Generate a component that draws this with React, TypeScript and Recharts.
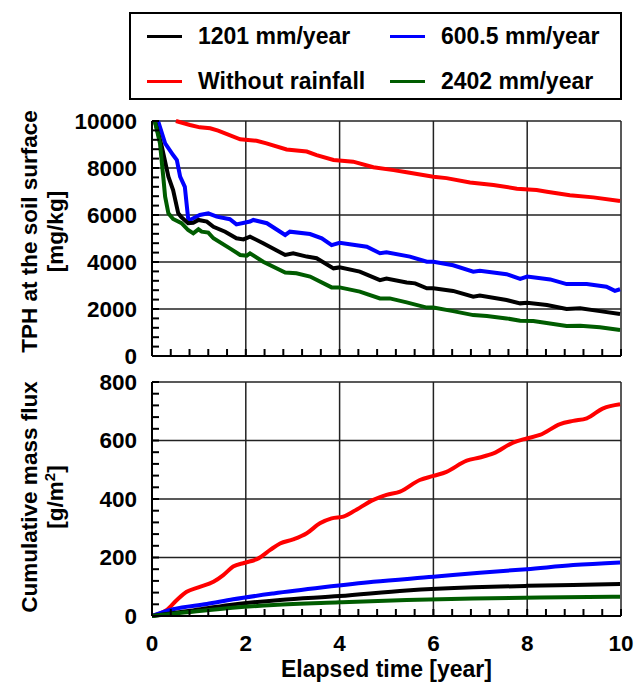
import { LineChart, Line, XAxis, YAxis, CartesianGrid } from "recharts";

const FONT = '"Liberation Sans", Arial, sans-serif';

// major ticks carry labels and grid lines, the rest are small inward ticks
const xTicks = [0, 2, 4, 6, 8, 10];
const xAllTicks = [0, 0.4, 0.8, 1.2, 1.6, 2, 2.4, 2.8, 3.2, 3.6, 4, 4.4, 4.8, 5.2, 5.6, 6, 6.4, 6.8, 7.2, 7.6, 8, 8.4, 8.8, 9.2, 9.6, 10];
const tphTicks = [0, 2000, 4000, 6000, 8000, 10000];
const tphAllTicks = [0, 400, 800, 1200, 1600, 2000, 2400, 2800, 3200, 3600, 4000, 4400, 4800, 5200, 5600, 6000, 6400, 6800, 7200, 7600, 8000, 8400, 8800, 9200, 9600, 10000];
const fluxTicks = [0, 200, 400, 600, 800];
const fluxAllTicks = [0, 40, 80, 120, 160, 200, 240, 280, 320, 360, 400, 440, 480, 520, 560, 600, 640, 680, 720, 760, 800];

// TPH at the soil surface [mg/kg], t in years
const tph1201 = [
  { t: 0.06, v: 10000 }, { t: 0.21, v: 8900 }, { t: 0.35, v: 7630 }, { t: 0.45, v: 7060 },
  { t: 0.56, v: 6070 }, { t: 0.63, v: 5900 }, { t: 0.77, v: 5650 }, { t: 0.88, v: 5670 },
  { t: 0.99, v: 5790 }, { t: 1.17, v: 5720 }, { t: 1.31, v: 5500 }, { t: 1.56, v: 5290 },
  { t: 1.8, v: 5010 }, { t: 1.95, v: 4960 }, { t: 2.09, v: 5080 }, { t: 2.37, v: 4800 },
  { t: 2.84, v: 4300 }, { t: 3.01, v: 4370 }, { t: 3.3, v: 4230 }, { t: 3.51, v: 4160 },
  { t: 3.87, v: 3730 }, { t: 4.0, v: 3770 }, { t: 4.43, v: 3590 }, { t: 4.86, v: 3230 },
  { t: 5.0, v: 3300 }, { t: 5.43, v: 3130 }, { t: 5.61, v: 3090 }, { t: 5.86, v: 2880 },
  { t: 6.0, v: 2880 }, { t: 6.42, v: 2770 }, { t: 6.85, v: 2520 }, { t: 6.99, v: 2570 },
  { t: 7.56, v: 2380 }, { t: 7.85, v: 2240 }, { t: 8.0, v: 2270 }, { t: 8.42, v: 2170 },
  { t: 8.84, v: 2000 }, { t: 9.13, v: 2030 }, { t: 9.55, v: 1910 }, { t: 9.98, v: 1790 },
];
const tph600 = [
  { t: 0.13, v: 10000 }, { t: 0.28, v: 9050 }, { t: 0.45, v: 8550 }, { t: 0.53, v: 8340 },
  { t: 0.6, v: 7630 }, { t: 0.7, v: 7200 }, { t: 0.77, v: 5860 }, { t: 0.81, v: 5790 },
  { t: 1.02, v: 6000 }, { t: 1.2, v: 6070 }, { t: 1.38, v: 5930 }, { t: 1.66, v: 5820 },
  { t: 1.8, v: 5600 }, { t: 2.09, v: 5720 }, { t: 2.16, v: 5790 }, { t: 2.45, v: 5650 },
  { t: 2.84, v: 5150 }, { t: 2.94, v: 5290 }, { t: 3.37, v: 5190 }, { t: 3.62, v: 5010 },
  { t: 3.83, v: 4720 }, { t: 4.0, v: 4820 }, { t: 4.58, v: 4650 }, { t: 4.86, v: 4370 },
  { t: 5.0, v: 4410 }, { t: 5.5, v: 4230 }, { t: 5.86, v: 4010 }, { t: 6.0, v: 4010 },
  { t: 6.42, v: 3860 }, { t: 6.85, v: 3590 }, { t: 6.99, v: 3630 }, { t: 7.56, v: 3480 },
  { t: 7.85, v: 3280 }, { t: 8.0, v: 3380 }, { t: 8.49, v: 3260 }, { t: 8.84, v: 3060 },
  { t: 9.27, v: 3060 }, { t: 9.69, v: 2950 }, { t: 9.87, v: 2770 }, { t: 9.98, v: 2840 },
];
const tphNoRain = [
  { t: 0.51, v: 10000 }, { t: 0.81, v: 9830 }, { t: 1.02, v: 9730 }, { t: 1.24, v: 9690 },
  { t: 1.41, v: 9590 }, { t: 1.88, v: 9220 }, { t: 2.23, v: 9160 }, { t: 2.44, v: 9050 },
  { t: 2.87, v: 8790 }, { t: 3.3, v: 8700 }, { t: 3.51, v: 8550 }, { t: 3.87, v: 8340 },
  { t: 4.29, v: 8270 }, { t: 4.72, v: 8030 }, { t: 5.15, v: 7910 }, { t: 5.43, v: 7820 },
  { t: 6.0, v: 7630 }, { t: 6.28, v: 7570 }, { t: 6.78, v: 7380 }, { t: 7.28, v: 7280 },
  { t: 7.78, v: 7120 }, { t: 8.2, v: 7060 }, { t: 8.42, v: 6990 }, { t: 8.91, v: 6840 },
  { t: 9.41, v: 6750 }, { t: 9.98, v: 6600 },
];
const tph2402 = [
  { t: 0.06, v: 10000 }, { t: 0.17, v: 9050 }, { t: 0.24, v: 7630 }, { t: 0.28, v: 6780 },
  { t: 0.35, v: 6070 }, { t: 0.45, v: 5830 }, { t: 0.63, v: 5650 }, { t: 0.77, v: 5360 },
  { t: 0.88, v: 5220 }, { t: 0.99, v: 5390 }, { t: 1.06, v: 5290 }, { t: 1.2, v: 5250 },
  { t: 1.31, v: 5010 }, { t: 1.66, v: 4580 }, { t: 1.88, v: 4300 }, { t: 2.02, v: 4270 },
  { t: 2.09, v: 4370 }, { t: 2.37, v: 4010 }, { t: 2.84, v: 3550 }, { t: 3.08, v: 3520 },
  { t: 3.37, v: 3380 }, { t: 3.83, v: 2920 }, { t: 4.0, v: 2920 }, { t: 4.43, v: 2740 },
  { t: 4.86, v: 2450 }, { t: 5.07, v: 2450 }, { t: 5.43, v: 2280 }, { t: 5.86, v: 2060 },
  { t: 6.0, v: 2060 }, { t: 6.42, v: 1910 }, { t: 6.85, v: 1740 }, { t: 7.14, v: 1700 },
  { t: 7.56, v: 1600 }, { t: 7.85, v: 1500 }, { t: 8.13, v: 1490 }, { t: 8.84, v: 1280 },
  { t: 9.13, v: 1290 }, { t: 9.55, v: 1220 }, { t: 9.98, v: 1110 },
];

// Cumulative mass flux [g/m2]
const flux1201 = [
  { t: 0, v: 0 }, { t: 0.81, v: 18 }, { t: 1.66, v: 38 }, { t: 2.73, v: 55 }, { t: 4.0, v: 68 },
  { t: 5.43, v: 87 }, { t: 6.85, v: 98 }, { t: 7.99, v: 103 }, { t: 8.98, v: 106 }, { t: 9.98, v: 109 },
];
const flux600 = [
  { t: 0, v: 0 }, { t: 0.45, v: 23 }, { t: 1.17, v: 41 }, { t: 1.73, v: 57 }, { t: 2.59, v: 77 },
  { t: 3.65, v: 98 }, { t: 4.72, v: 117 }, { t: 6.0, v: 134 }, { t: 6.99, v: 148 }, { t: 7.99, v: 160 },
  { t: 8.98, v: 174 }, { t: 9.98, v: 183 },
];
const fluxNoRain = [
  { t: 0, v: 0 }, { t: 0.31, v: 20 }, { t: 0.53, v: 55 }, { t: 0.74, v: 83 }, { t: 0.99, v: 98 },
  { t: 1.31, v: 117 }, { t: 1.52, v: 140 }, { t: 1.73, v: 169 }, { t: 1.98, v: 182 }, { t: 2.27, v: 197 },
  { t: 2.52, v: 226 }, { t: 2.73, v: 248 }, { t: 3.01, v: 262 }, { t: 3.3, v: 283 }, { t: 3.58, v: 317 },
  { t: 3.83, v: 334 }, { t: 4.08, v: 340 }, { t: 4.29, v: 357 }, { t: 4.72, v: 397 }, { t: 5.0, v: 414 },
  { t: 5.29, v: 425 }, { t: 5.71, v: 465 }, { t: 6.0, v: 479 }, { t: 6.28, v: 493 }, { t: 6.71, v: 531 },
  { t: 6.99, v: 542 }, { t: 7.28, v: 556 }, { t: 7.7, v: 593 }, { t: 7.99, v: 607 }, { t: 8.27, v: 619 },
  { t: 8.7, v: 656 }, { t: 8.98, v: 667 }, { t: 9.27, v: 676 }, { t: 9.62, v: 710 }, { t: 9.98, v: 724 },
];
const flux2402 = [
  { t: 0, v: 0 }, { t: 1.17, v: 20 }, { t: 2.59, v: 38 }, { t: 4.0, v: 47 }, { t: 5.43, v: 55 },
  { t: 6.85, v: 60 }, { t: 8.27, v: 63 }, { t: 9.98, v: 66 },
];

const series = [
  { key: "norain", name: "Without rainfall", color: "#ff0000", tph: tphNoRain, flux: fluxNoRain },
  { key: "600", name: "600.5 mm/year", color: "#0000ff", tph: tph600, flux: flux600 },
  { key: "1201", name: "1201 mm/year", color: "#000000", tph: tph1201, flux: flux1201 },
  { key: "2402", name: "2402 mm/year", color: "#005c00", tph: tph2402, flux: flux2402 },
];
const legendOrder = ["1201", "600", "norain", "2402"];

const labelFont = { fontFamily: FONT, fontWeight: "bold", fontSize: 22.5, fill: "#000" };

// y tick: small inward line at every tick, label only on the majors
function YTick({ x, y, payload, majors }: any) {
  const show = majors.includes(payload.value);
  return (
    <g>
      <line x1={x} x2={x + 7} y1={y} y2={y} stroke="#000" strokeWidth={2} />
      {show && (
        <text x={x - 15} y={y} textAnchor="end" dominantBaseline="central" {...labelFont}>
          {payload.value}
        </text>
      )}
    </g>
  );
}

function XTick({ x, y, payload, labels }: any) {
  const show = labels && xTicks.includes(payload.value);
  return (
    <g>
      <line x1={x} x2={x} y1={y} y2={y - 7} stroke="#000" strokeWidth={2} />
      {show && (
        <text x={x} y={y + 35} textAnchor="middle" {...labelFont}>
          {payload.value}
        </text>
      )}
    </g>
  );
}

function YTitle({ viewBox, lines, shift = 0 }: any) {
  const cy = viewBox.y + viewBox.height / 2 + shift;
  return (
    <g>
      {lines.map((line: any, i: number) => {
        const bx = viewBox.x + 37 + i * 26;
        return (
          <text key={i} x={bx} y={cy} transform={`rotate(-90 ${bx} ${cy})`} textAnchor="middle" {...labelFont}>
            {line}
          </text>
        );
      })}
    </g>
  );
}

function XTitle({ viewBox }: any) {
  return (
    <text x={viewBox.x + viewBox.width / 2} y={viewBox.y + 61} textAnchor="middle" {...labelFont} fontSize={23}>
      Elapsed time [year]
    </text>
  );
}

function LegendBox() {
  return (
    <div
      style={{
        position: "absolute",
        left: 129,
        top: 12,
        width: 493,
        height: 88,
        boxSizing: "border-box",
        border: "2px solid #000",
        display: "grid",
        gridTemplateColumns: "243px 240px",
        gridTemplateRows: "45px 45px",
        paddingLeft: 16,
        fontFamily: FONT,
        fontWeight: "bold",
        fontSize: 23,
      }}
    >
      {legendOrder.map((k) => {
        const s = series.find((d) => d.key === k)!;
        return (
          <div key={k} style={{ display: "flex", alignItems: "center" }}>
            <span style={{ width: 35, height: 3, background: s.color, marginRight: 16 }} />
            <span>{s.name}</span>
          </div>
        );
      })}
    </div>
  );
}

export default function App() {
  return (
    <div style={{ position: "absolute", left: 0, top: 0, width: 644, height: 682, background: "#fff" }}>
      <LegendBox />
      <div style={{ position: "absolute", left: 0, top: 0 }}>
        <LineChart width={644} height={370} margin={{ top: 121, right: 23, bottom: 0, left: 0 }}>
          <CartesianGrid stroke="#222" strokeWidth={1.5} verticalValues={xTicks} horizontalValues={tphTicks} />
          <XAxis
            dataKey="t"
            type="number"
            domain={[0, 10]}
            ticks={xAllTicks}
            interval={0}
            tick={<XTick labels={false} />}
            tickLine={false}
            tickSize={0}
            tickMargin={0}
            height={14}
            axisLine={{ stroke: "#000", strokeWidth: 2 }}
          />
          <YAxis
            type="number"
            domain={[0, 10000]}
            ticks={tphAllTicks}
            interval={0}
            width={152}
            tickSize={0}
            tickMargin={0}
            tickLine={false}
            tick={<YTick majors={tphTicks} />}
            axisLine={{ stroke: "#000", strokeWidth: 2 }}
            label={<YTitle lines={["TPH at the soil surface", "[mg/kg]"]} shift={-7} />}
          />
          {series.map((s) => (
            <Line
              key={s.key}
              data={s.tph}
              dataKey="v"
              name={s.name}
              type="linear"
              stroke={s.color}
              strokeWidth={4}
              dot={false}
              isAnimationActive={false}
            />
          ))}
        </LineChart>
      </div>
      <div style={{ position: "absolute", left: 0, top: 370 }}>
        <LineChart width={644} height={312} margin={{ top: 12, right: 23, bottom: 0, left: 0 }}>
          <CartesianGrid stroke="#222" strokeWidth={1.5} verticalValues={xTicks} horizontalValues={fluxTicks} />
          <XAxis
            dataKey="t"
            type="number"
            domain={[0, 10]}
            ticks={xAllTicks}
            interval={0}
            tick={<XTick labels />}
            tickLine={false}
            tickSize={0}
            tickMargin={0}
            height={66}
            axisLine={{ stroke: "#000", strokeWidth: 2 }}
            label={<XTitle />}
          />
          <YAxis
            type="number"
            domain={[0, 800]}
            ticks={fluxAllTicks}
            interval={0}
            width={152}
            tickSize={0}
            tickMargin={0}
            tickLine={false}
            tick={<YTick majors={fluxTicks} />}
            axisLine={{ stroke: "#000", strokeWidth: 2 }}
            label={
              <YTitle
                lines={[
                  "Cumulative mass flux",
                  <>
                    [g/m
                    <tspan dy={-8} fontSize={15}>
                      2
                    </tspan>
                    <tspan dy={8}>]</tspan>
                  </>,
                ]}
                shift={-2}
              />
            }
          />
          {series.map((s) => (
            <Line
              key={s.key}
              data={s.flux}
              dataKey="v"
              name={s.name}
              type="monotone"
              stroke={s.color}
              strokeWidth={4}
              dot={false}
              isAnimationActive={false}
            />
          ))}
        </LineChart>
      </div>
    </div>
  );
}
